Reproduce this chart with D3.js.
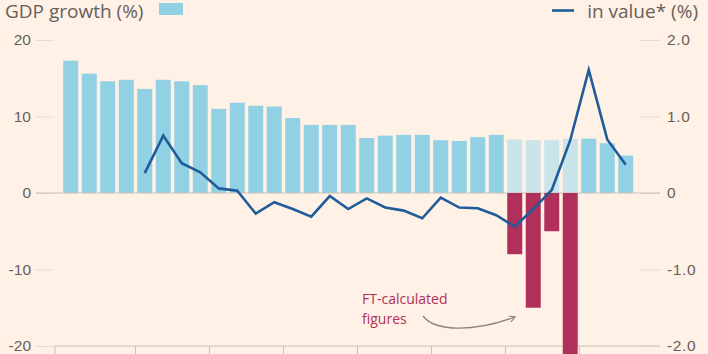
<!DOCTYPE html>
<html>
<head>
<meta charset="utf-8">
<title>GDP growth</title>
<style>
  body { margin: 0; background: #fff1e5; }
  svg { display: block; font-family: "Open Sans", sans-serif; }
</style>
</head>
<body>
<script src="https://d3js.org/d3.v7.min.js"></script>
<script>
  // quarterly GDP growth (%), left axis
  var gdpGrowth = [17.3, 15.6, 14.6, 14.8, 13.6, 14.8, 14.6, 14.1, 11.0, 11.8, 11.4, 11.3,
    9.8, 8.9, 8.9, 8.9, 7.2, 7.5, 7.6, 7.6, 6.9, 6.8, 7.3, 7.6,
    7.0, 6.9, 6.9, 7.1, 7.1, 6.5, 4.9];
  // bars shown in pale colour (FT-calculated period)
  var paleIdx = [24, 25, 26, 27];
  // FT-calculated figures (%), left axis
  var ftIdx = [24, 25, 26, 27];
  var ftValues = [-8.0, -15.0, -5.0, -24.0];
  // in value* (%), right axis; starts at bar 4
  var valueStart = 4;
  var inValue = [0.26, 0.75, 0.39, 0.27, 0.06, 0.03, -0.27, -0.12, -0.21, -0.31, -0.04, -0.21,
    -0.07, -0.19, -0.23, -0.33, -0.06, -0.19, -0.20, -0.29, -0.44, -0.21, 0.04, 0.69,
    1.61, 0.70, 0.37];
  var leftTicks = [20, 10, 0, -10, -20];
  var rightTicks = [2, 1, 0, -1, -2];

  var W = 708, H = 354;
  var grey = '#66605c', gridCol = '#e8ddd3', zeroCol = '#ccc1b7';

  var svg = d3.select('body').append('svg')
    .attr('width', W).attr('height', H);

  var y = d3.scaleLinear().domain([-20, 20]).range([346, 40]);
  var y2 = d3.scaleLinear().domain([-2, 2]).range([346, 40]);
  var x = d3.scaleBand()
    .domain(d3.range(gdpGrowth.length))
    .range([61.5, 635])
    .paddingInner(0.19)
    .paddingOuter(0.095);

  // left axis
  var gl = svg.append('g').attr('transform', 'translate(54,0)')
    .call(d3.axisLeft(y).tickValues(leftTicks).tickSize(18).tickPadding(5)
      .tickFormat(d => d < 0 ? '-' + Math.abs(d) : d));
  gl.select('.domain').remove();
  gl.selectAll('line').attr('stroke', gridCol);
  gl.selectAll('text').attr('fill', grey).style('font-size', '15.5px').attr('font-family', null);

  // right axis
  var gr = svg.append('g').attr('transform', 'translate(640,0)')
    .call(d3.axisRight(y2).tickValues(rightTicks).tickSize(20).tickPadding(7)
      .tickFormat(d => d === 0 ? '0' : (d < 0 ? '-' + Math.abs(d).toFixed(1) : d.toFixed(1))));
  gr.select('.domain').remove();
  gr.selectAll('line').attr('stroke', gridCol);
  gr.selectAll('text').attr('fill', grey).style('font-size', '15.5px')
    .style('letter-spacing', '0.6px').attr('font-family', null);

  // bars
  svg.append('g').selectAll('rect').data(gdpGrowth).enter().append('rect')
    .attr('x', (d, i) => x(i))
    .attr('width', x.bandwidth())
    .attr('y', d => y(d))
    .attr('height', d => y(0) - y(d))
    .attr('fill', (d, i) => paleIdx.indexOf(i) >= 0 ? '#c9e5ea' : '#92d0e4');

  // zero line
  svg.append('line').attr('x1', 36).attr('x2', 660)
    .attr('y1', y(0)).attr('y2', y(0)).attr('stroke', zeroCol).attr('stroke-width', 1);

  // x axis line + year ticks
  svg.append('line').attr('x1', 55).attr('x2', 660)
    .attr('y1', 346).attr('y2', 346).attr('stroke', zeroCol);
  var tickX = [55].concat(d3.range(4, gdpGrowth.length, 4).map(i => x(i) - x.step() * x.paddingInner() / 2));
  svg.append('g').selectAll('line').data(tickX).enter().append('line')
    .attr('x1', d => d).attr('x2', d => d)
    .attr('y1', 346).attr('y2', 356).attr('stroke', zeroCol);

  // FT-calculated bars
  svg.append('g').selectAll('rect').data(ftValues).enter().append('rect')
    .attr('x', (d, i) => x(ftIdx[i]))
    .attr('width', x.bandwidth())
    .attr('y', y(0))
    .attr('height', d => y(d) - y(0))
    .attr('fill', '#b0305c');

  // in value line
  var line = d3.line()
    .x((d, i) => x(i + valueStart) + x.bandwidth() / 2)
    .y(d => y2(d));
  svg.append('path').datum(inValue)
    .attr('d', line)
    .attr('fill', 'none')
    .attr('stroke', '#1f5c99')
    .attr('stroke-width', 2.6)
    .attr('stroke-linejoin', 'miter');

  // legends
  svg.append('text').attr('x', 5).attr('y', 17.5)
    .attr('fill', grey).style('font-size', '19px').text('GDP growth (%)');
  svg.append('rect').attr('x', 159).attr('y', 3).attr('width', 24).attr('height', 12)
    .attr('fill', '#92d0e4');
  svg.append('line').attr('x1', 552).attr('x2', 574).attr('y1', 10.5).attr('y2', 10.5)
    .attr('stroke', '#1f5c99').attr('stroke-width', 2.6);
  svg.append('text').attr('x', 698).attr('y', 17.5).attr('text-anchor', 'end')
    .attr('fill', grey).style('font-size', '19px').text('in value* (%)');

  // annotation
  var ann = svg.append('text').attr('fill', '#b0305c').style('font-size', '14px');
  ann.append('tspan').attr('x', 362).attr('y', 304).text('FT-calculated');
  ann.append('tspan').attr('x', 362).attr('y', 324).text('figures');
  svg.append('defs').append('marker')
    .attr('id', 'ah').attr('viewBox', '0 0 10 10').attr('refX', 8).attr('refY', 5)
    .attr('markerWidth', 6).attr('markerHeight', 6).attr('orient', 'auto')
    .append('path').attr('d', 'M1,1 L8,5 L1,9').attr('fill', 'none')
    .attr('stroke', '#8a8583').attr('stroke-width', 1.5);
  svg.append('path')
    .attr('d', 'M423,316 C435,332 475,332 515,317')
    .attr('fill', 'none').attr('stroke', '#8a8583').attr('stroke-width', 1.3)
    .attr('marker-end', 'url(#ah)');
</script>
</body>
</html>
